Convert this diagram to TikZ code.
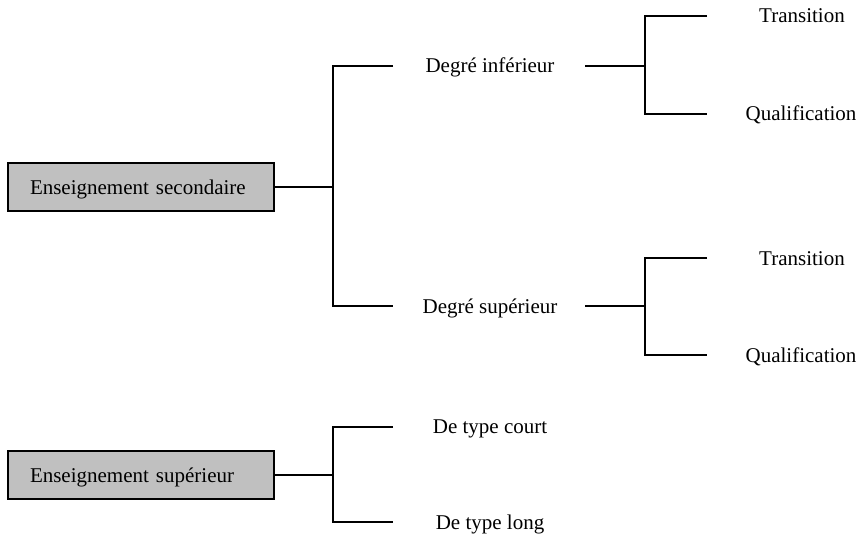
\documentclass[tikz,border=0pt]{standalone}
\usepackage{fontspec}
\setmainfont{Liberation Serif}
\definecolor{boxgray}{RGB}{192,192,192}
\begin{document}
\begin{tikzpicture}[x=1pt,y=-1pt,
  every node/.style={font=\fontsize{21}{25}\selectfont},
  box/.style={draw, line width=1.6pt, fill=boxgray, minimum height=48pt, text width=222pt, align=left, inner xsep=22pt, inner ysep=0pt, text height=14pt, text depth=0pt},
  lbl/.style={inner sep=0pt, text height=14pt, text depth=0pt},
  link/.style={line width=1.8pt},
  stem/.style={line width=2.6pt}]
\useasboundingbox (0,0) rectangle (862,535);
% nodes
\node[box] (b1) at (141,187) {Enseignement secondaire};
\node[lbl] (di) at (490,66) {Degré inférieur};
\node[lbl] (ds) at (490,306) {Degré supérieur};
\node[lbl] (t1) at (802,16) {Transition};
\node[lbl] (q1) at (801,114) {Qualification};
\node[lbl] (t2) at (802,258) {Transition};
\node[lbl] (q2) at (801,355) {Qualification};
\node[box] (b2) at (141,475) {Enseignement supérieur};
\node[lbl] (dc) at (490,426) {De type court};
\node[lbl] (dl) at (490,522) {De type long};
% connector coordinates
\coordinate (j1) at (333,187);
\coordinate (a1) at (393,66);
\coordinate (a2) at (393,306);
\coordinate (r1) at (585,66);
\coordinate (k1) at (645,66);
\coordinate (e1) at (707,16);
\coordinate (e2) at (707,114);
\coordinate (r2) at (585,306);
\coordinate (k2) at (645,306);
\coordinate (e3) at (707,258);
\coordinate (e4) at (707,355);
\coordinate (j2) at (333,475);
\coordinate (a3) at (393,427);
\coordinate (a4) at (393,522);
% connectors
\draw[stem] (b1.east) -- (j1);
\draw[link] (a1) -| (j1) |- (a2);
\draw[stem] (r1) -- (k1);
\draw[link] (e1) -| (k1) |- (e2);
\draw[stem] (r2) -- (k2);
\draw[link] (e3) -| (k2) |- (e4);
\draw[stem] (b2.east) -- (j2);
\draw[link] (a3) -| (j2) |- (a4);
\end{tikzpicture}
\end{document}
